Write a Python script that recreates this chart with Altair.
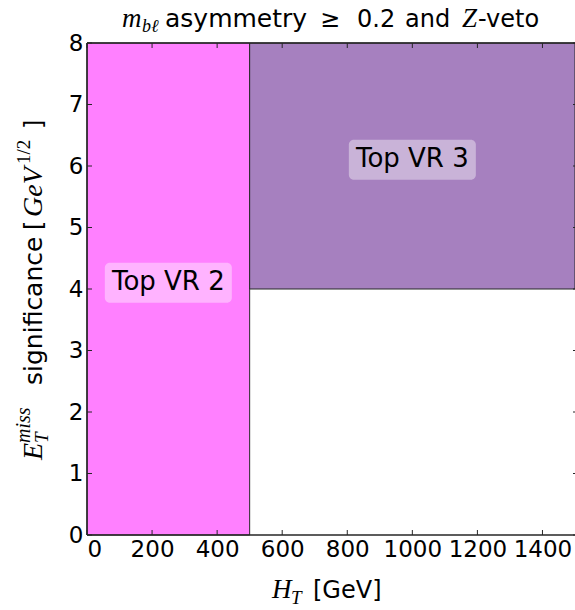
import altair as alt
import pandas as pd

# Signal-region layout in the (H_T, MET significance) plane
region_names = ["Top VR 2", "Top VR 3"]
region_x0 = [0, 500]
region_x1 = [500, 1500]
region_y0 = [0, 4]
region_y1 = [8, 8]
region_colors = ["#ff80ff", "#a680bf"]

# Where each region's name is written
label_x = [250, 1000]
label_y = [4.1, 6.1]

x_ticks = [0, 200, 400, 600, 800, 1000, 1200, 1400]
y_ticks = [0, 1, 2, 3, 4, 5, 6, 7, 8]
x_domain = [0, 1500]
y_domain = [0, 8]

W, H = 488, 492
SANS = "DejaVu Sans"
MATH = "Liberation Serif"
FRAME = "#262626"

regions = pd.DataFrame({
    "name": region_names, "x0": region_x0, "x1": region_x1,
    "y0": region_y0, "y1": region_y1,
})
labels = pd.DataFrame({"name": region_names, "lx": label_x, "ly": label_y})
xt = pd.DataFrame({"t": x_ticks})
yt = pd.DataFrame({"t": y_ticks})

xscale = alt.Scale(domain=x_domain, nice=False, zero=False)
yscale = alt.Scale(domain=y_domain, nice=False, zero=False)
xaxis = alt.Axis(values=x_ticks, ticks=False, domain=False, grid=False,
                 labelFont=SANS, labelFontSize=23, labelColor="black",
                 labelPadding=3, title="", format="d")
yaxis = alt.Axis(values=y_ticks, ticks=False, domain=False, grid=False,
                 labelFont=SANS, labelFontSize=23, labelColor="black",
                 labelPadding=4, title="", format="d")


def X(field):
    return alt.X(field, type="quantitative", scale=xscale, axis=xaxis)


def Y(field):
    return alt.Y(field, type="quantitative", scale=yscale, axis=yaxis)


rects = alt.Chart(regions).mark_rect(stroke=FRAME, strokeWidth=1).encode(
    x=X("x0"), x2="x1", y=Y("y0"), y2="y1",
    color=alt.Color("name:N", scale=alt.Scale(domain=region_names, range=region_colors),
                    legend=None),
)

boxes = alt.Chart(labels).mark_rect(
    fill="white", opacity=0.4, cornerRadius=5,
    xOffset=-63.5, x2Offset=63.5, yOffset=20, y2Offset=-20,
).encode(x=X("lx"), x2="lx", y=Y("ly"), y2="ly")

texts = alt.Chart(labels).mark_text(
    font=SANS, fontSize=26, align="center", baseline="middle", color="black", dy=-1,
).encode(x=X("lx"), y=Y("ly"), text="name:N")

# Inward-pointing ticks on all four sides; the right-hand side sits at the
# edge of the page, so only the stubs of its ticks show
tick_style = dict(color=FRAME, strokeWidth=1)
bottom_ticks = alt.Chart(xt).mark_rule(**tick_style).encode(
    x=X("t"), y=alt.value(H), y2=alt.value(H - 5))
top_ticks = alt.Chart(xt).mark_rule(**tick_style).encode(
    x=X("t"), y=alt.value(0), y2=alt.value(5))
left_ticks = alt.Chart(yt).mark_rule(**tick_style).encode(
    y=Y("t"), x=alt.value(0), x2=alt.value(5))
right_ticks = alt.Chart(yt).mark_rule(**tick_style).encode(
    y=Y("t"), x=alt.value(W), x2=alt.value(W - 2))

one = pd.DataFrame({"k": [0]})
frame_style = dict(color=FRAME, strokeWidth=1.5)
frame_top = alt.Chart(one).mark_rule(**frame_style).encode(
    x=alt.value(0), x2=alt.value(W), y=alt.value(0))
frame_bottom = alt.Chart(one).mark_rule(**frame_style).encode(
    x=alt.value(0), x2=alt.value(W), y=alt.value(H))
frame_left = alt.Chart(one).mark_rule(**frame_style).encode(
    x=alt.value(0), y=alt.value(0), y2=alt.value(H))


def seg(text, x, y, font=SANS, size=24, style="normal", angle=0):
    return alt.Chart(one).mark_text(
        text=text, font=font, fontSize=size, fontStyle=style, angle=angle,
        align="left", baseline="alphabetic", color="black",
    ).encode(x=alt.value(x), y=alt.value(y))


# Title: m_{bl} asymmetry >= 0.2 and Z-veto
title_parts = [
    seg("m", 35, -16, MATH, 27, "italic"),
    seg("bℓ", 55, -11, MATH, 18, "italic"),
    seg("asymmetry", 78, -16, size=25),
    seg("≥", 233, -16),
    seg("0.2", 270, -16),
    seg("and", 318, -16),
    seg("Z", 375, -16, MATH, 27, "italic"),
    seg("-veto", 391, -16),
]

# x-axis title: H_T [GeV]
xtitle_parts = [
    seg("H", 185, 555, MATH, 27, "italic"),
    seg("T", 204, 561, MATH, 19, "italic"),
    seg("[GeV]", 226, 555),
]

# y-axis title: E_T^miss significance [GeV^{1/2}]
ytitle_parts = [
    seg("E", -45, 417, MATH, 28, "italic", 270),
    seg("T", -39, 400, MATH, 19, "italic", 270),
    seg("miss", -57, 400, MATH, 20, "italic", 270),
    seg("significance", -45, 342, size=25, angle=270),
    seg("[", -45, 187, angle=270),
    seg("GeV", -45, 174, MATH, 28, "italic", 270),
    seg("1/2", -57, 121, MATH, 19, "normal", 270),
    seg("]", -45, 86, angle=270),
]

chart = alt.layer(
    rects, boxes, texts, bottom_ticks, top_ticks, left_ticks, right_ticks,
    frame_top, frame_bottom, frame_left,
    *title_parts, *xtitle_parts, *ytitle_parts,
).properties(
    width=W, height=H,
    padding={"left": 87, "top": 43, "right": 0, "bottom": 75},
    autosize=alt.AutoSizeParams(type="none"),
    background="white",
).configure_view(stroke=None)

chart.save("out.html", embed_options={"renderer": "svg", "actions": False})
